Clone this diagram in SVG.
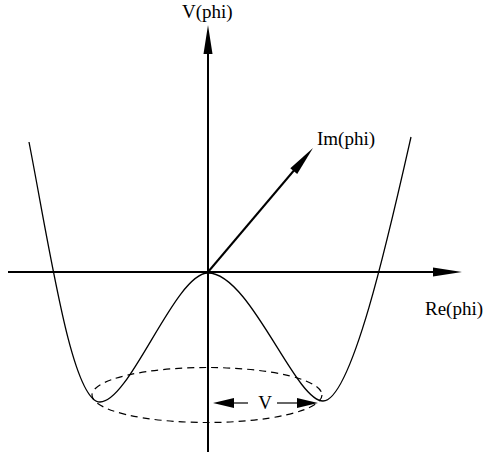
<svg xmlns="http://www.w3.org/2000/svg" width="485" height="455" viewBox="0 0 485 455">
<style>
.axis{stroke:#000;stroke-width:2;fill:none}
.thin{stroke:#000;stroke-width:1.2;fill:none}
.curve{stroke:#000;stroke-width:1.3;fill:none}
.dash{stroke:#000;stroke-width:1.2;fill:none;stroke-dasharray:7,5}
.head{fill:#000;stroke:none}
text{font-family:"Liberation Serif","Times New Roman",serif;font-size:19px;fill:#000}
</style>
<rect width="485" height="455" fill="#fff"/>
<g id="connectors">
<line class="axis" x1="208" y1="452" x2="208" y2="50"/>
<polygon class="head" points="208,25 203.5,54 212.5,54"/>
<line class="axis" x1="8" y1="272" x2="436" y2="272"/>
<polygon class="head" points="462,272 433,267.5 433,276.5"/>
<line class="axis" x1="208" y1="272" x2="296" y2="168"/>
<polygon class="head" points="313,148 297.2,174 290.3,168.2"/>
<line class="thin" x1="230" y1="403" x2="248" y2="403"/>
<polygon class="head" points="213,403 234,398 234,408"/>
<line class="thin" x1="277" y1="403" x2="298" y2="403"/>
<polygon class="head" points="318,403 297,398 297,408"/>
</g>
<g id="potential">
<path class="curve" d="M29,142 C50,250 72,402 100,402 C130,402 175,273 208,273 C250,273 295,401 323,401 C352,401 390,230 411,137"/>
</g>
<g id="vacuum-circle">
<ellipse class="dash" cx="207" cy="395" rx="115" ry="27.5"/>
</g>
<g id="label-V-phi"><text x="182" y="18">V(phi)</text></g>
<g id="label-Im-phi"><text x="317" y="145">Im(phi)</text></g>
<g id="label-Re-phi"><text x="425" y="315">Re(phi)</text></g>
<g id="label-V"><text x="265" y="409" text-anchor="middle">V</text></g>
</svg>
